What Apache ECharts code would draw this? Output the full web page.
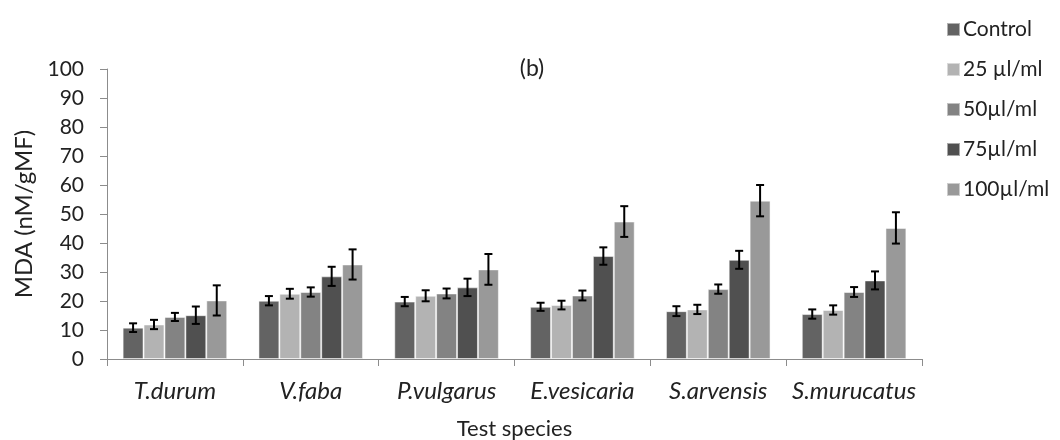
<!DOCTYPE html>
<html><head><meta charset="utf-8">
<script src="https://cdn.jsdelivr.net/npm/echarts@6/dist/echarts.min.js"></script>
<style>html,body{margin:0;padding:0;background:#fff}#c{width:1060px;height:440px}</style>
</head><body><div id="c"></div>
<script>
const categories = ['T.durum', 'V.faba', 'P.vulgarus', 'E.vesicaria', 'S.arvensis', 'S.murucatus'];
const seriesNames = ['Control', '25 µl/ml', '50µl/ml', '75µl/ml', '100µl/ml'];
const control = [10.8, 20.1, 19.8, 18.0, 16.5, 15.5];
const c25 = [11.9, 22.5, 21.8, 18.6, 17.1, 16.9];
const c50 = [14.5, 23.1, 22.6, 21.9, 24.1, 23.1];
const c75 = [15.1, 28.5, 24.7, 35.5, 34.2, 27.1];
const c100 = [20.2, 32.6, 30.9, 47.4, 54.6, 45.2];
const errControl = [1.5, 1.6, 1.6, 1.4, 1.7, 1.6];
const err25 = [1.6, 1.7, 1.9, 1.5, 1.6, 1.6];
const err50 = [1.4, 1.6, 1.7, 1.7, 1.6, 1.7];
const err75 = [3.0, 3.3, 3.0, 3.0, 3.1, 3.1];
const err100 = [5.2, 5.2, 5.3, 5.3, 5.4, 5.4];
const yTicks = [0, 10, 20, 30, 40, 50, 60, 70, 80, 90, 100];

const values = [control, c25, c50, c75, c100];
const errors = [errControl, err25, err50, err75, err100];
const colors = ['#636363', '#b3b3b3', '#838383', '#505050', '#999999'];
const catGap = 0.23;
const font = 'Lato, "Open Sans", sans-serif';

const chart = echarts.init(document.getElementById('c'), null, {renderer: 'canvas'});

const barSeries = values.map((v, i) => ({
  name: seriesNames[i], type: 'bar', data: v,
  barGap: '0%', barCategoryGap: (catGap * 100) + '%',
  itemStyle: {color: colors[i], borderColor: 'rgba(255,255,255,0.5)', borderWidth: 1},
  emphasis: {disabled: true}, z: 2
}));

const errSeries = values.map((v, i) => ({
  type: 'custom', name: 'err' + i, silent: true, z: 5,
  data: v.map((val, k) => [k, val - errors[i][k], val + errors[i][k]]),
  renderItem: function (params, api) {
    const k = api.value(0);
    const lo = api.coord([k, api.value(1)]);
    const hi = api.coord([k, api.value(2)]);
    const catW = api.size([1, 0])[0];
    const bw = catW * (1 - catGap) / values.length;
    const x = lo[0] + (i - (values.length - 1) / 2) * bw;
    const cap = 4;
    const st = {stroke: '#000', lineWidth: 2};
    return {type: 'group', children: [
      {type: 'line', shape: {x1: x, y1: hi[1], x2: x, y2: lo[1]}, style: st},
      {type: 'line', shape: {x1: x - cap, y1: hi[1], x2: x + cap, y2: hi[1]}, style: st},
      {type: 'line', shape: {x1: x - cap, y1: lo[1], x2: x + cap, y2: lo[1]}, style: st}
    ]};
  }
}));

chart.setOption({
  animation: false,
  backgroundColor: '#fff',
  title: {text: '(b)', left: 527, top: 52, textAlign: 'center',
    textStyle: {fontFamily: font, fontSize: 23, fontWeight: 'normal', color: '#222'}},
  legend: {
    data: seriesNames, orient: 'vertical', left: 941, top: 14,
    itemWidth: 13, itemHeight: 13, itemGap: 19, icon: 'rect',
    textStyle: {fontFamily: font, fontSize: 21, color: '#222', padding: [0, 0, 0, -2]}
  },
  grid: {left: 107, right: 138, top: 69, bottom: 81, containLabel: false, outerBoundsMode: 'none'},
  xAxis: {
    type: 'category', data: categories,
    name: 'Test species', nameLocation: 'middle', nameGap: 59,
    nameTextStyle: {fontFamily: font, fontSize: 22, color: '#222'},
    axisLine: {lineStyle: {color: '#8c8c8c', width: 1}},
    axisTick: {show: true, length: 7, alignWithLabel: false, lineStyle: {color: '#8c8c8c'}},
    axisLabel: {interval: 0, hideOverlap: false, fontFamily: font, fontSize: 24, fontStyle: 'italic', color: '#222', margin: 20}
  },
  yAxis: {
    type: 'value', min: yTicks[0], max: yTicks[yTicks.length - 1], interval: yTicks[1] - yTicks[0],
    name: 'MDA (nM/gMF)', nameLocation: 'middle', nameGap: 70, nameRotate: 90,
    nameTextStyle: {fontFamily: font, fontSize: 24, color: '#222'},
    axisLine: {show: true, lineStyle: {color: '#8c8c8c', width: 1}},
    axisTick: {show: true, length: 7, lineStyle: {color: '#8c8c8c'}},
    splitLine: {show: false},
    axisLabel: {fontFamily: font, fontSize: 21, color: '#222', margin: 23}
  },
  series: barSeries.concat(errSeries)
});
</script></body></html>
